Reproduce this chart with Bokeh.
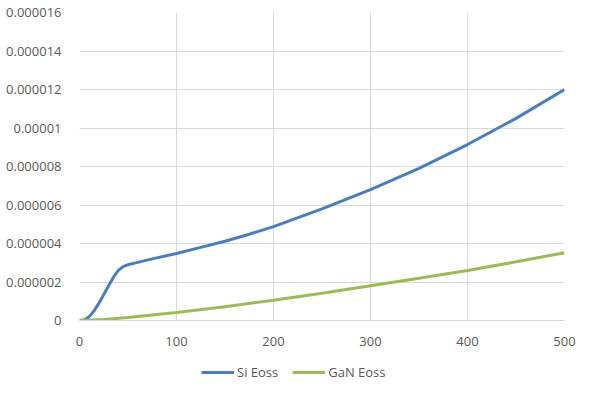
from bokeh.plotting import figure
from bokeh.layouts import column
from bokeh.models import FixedTicker, Legend, LegendItem, Range1d
from bokeh.embed import file_html
from bokeh.resources import INLINE

si_x = [0, 5, 10, 15, 20, 25, 30, 35, 40, 45, 50, 60, 75, 100, 125, 150, 175, 200, 250, 300, 350, 400, 450, 500]
si_y = [0, 0.03e-6, 0.2e-6, 0.5e-6, 0.9e-6, 1.35e-6, 1.8e-6, 2.25e-6, 2.6e-6, 2.8e-6, 2.9e-6, 3.02e-6, 3.2e-6, 3.48e-6, 3.8e-6, 4.12e-6, 4.48e-6, 4.88e-6, 5.8e-6, 6.8e-6, 7.9e-6, 9.14e-6, 10.5e-6, 12.0e-6]
gan_x = [0, 25, 50, 100, 150, 200, 250, 300, 350, 400, 450, 500]
gan_y = [0, 0.05e-6, 0.15e-6, 0.42e-6, 0.72e-6, 1.05e-6, 1.42e-6, 1.8e-6, 2.2e-6, 2.6e-6, 3.05e-6, 3.52e-6]

series_names = ["Si Eoss", "GaN Eoss"]
series_colors = ["#4a7ebb", "#9bbb59"]

x_ticks = [0, 100, 200, 300, 400, 500]
y_ticks = [0, 2e-6, 4e-6, 6e-6, 8e-6, 10e-6, 12e-6, 14e-6, 16e-6]
y_labels = ["0", "0.000002", "0.000004", "0.000006", "0.000008", "0.00001", "0.000012", "0.000014", "0.000016"]

FONT = "Open Sans"
TXT = "#595959"
GRID = "#d9d9d9"

p = figure(width=590, height=348, output_backend="svg", toolbar_location=None,
           x_range=Range1d(0, 500), y_range=Range1d(0, 16e-6),
           min_border_left=79, min_border_right=26, min_border_top=12, min_border_bottom=28)
p.outline_line_color = None

p.line(si_x, si_y, line_color=series_colors[0], line_width=3)
p.line(gan_x, gan_y, line_color=series_colors[1], line_width=3)

p.xaxis.ticker = FixedTicker(ticks=x_ticks)
p.yaxis.ticker = FixedTicker(ticks=y_ticks)
p.yaxis.major_label_overrides = {t: l for t, l in zip(y_ticks, y_labels)}

for ax in (p.xaxis, p.yaxis):
    ax.major_tick_line_color = None
    ax.minor_tick_line_color = None
    ax.major_label_text_font = FONT
    ax.major_label_text_font_size = "13px"
    ax.major_label_text_color = TXT
p.xaxis.axis_line_color = GRID
p.yaxis.axis_line_color = None
p.xaxis.major_label_standoff = 10
p.yaxis.major_label_standoff = 12

p.xgrid.grid_line_color = GRID
p.ygrid.grid_line_color = GRID

# legend strip below the chart (series drawn out of view, only legend shows)
p2 = figure(width=590, height=46, output_backend="svg", toolbar_location=None,
            x_range=Range1d(1000, 1001), y_range=Range1d(1, 2),
            x_axis_location=None, y_axis_location=None,
            min_border_left=0, min_border_right=0, min_border_top=0, min_border_bottom=0)
p2.outline_line_color = None
p2.xgrid.visible = False
p2.ygrid.visible = False
items = []
for name, col, xs, ys in zip(series_names, series_colors, [si_x, gan_x], [si_y, gan_y]):
    r = p2.line(xs, ys, line_color=col, line_width=3)
    items.append(LegendItem(label=name, renderers=[r]))
legend = Legend(items=items, orientation="horizontal", location=(122, 12),
                label_text_font=FONT, label_text_font_size="13px",
                label_text_color=TXT, glyph_width=33, label_standoff=3,
                spacing=14, border_line_color=None, background_fill_alpha=0,
                margin=0, padding=2)
p2.add_layout(legend, "center")

layout = column(p, p2, spacing=0)
open("out.html", "w").write(file_html(layout, INLINE))
